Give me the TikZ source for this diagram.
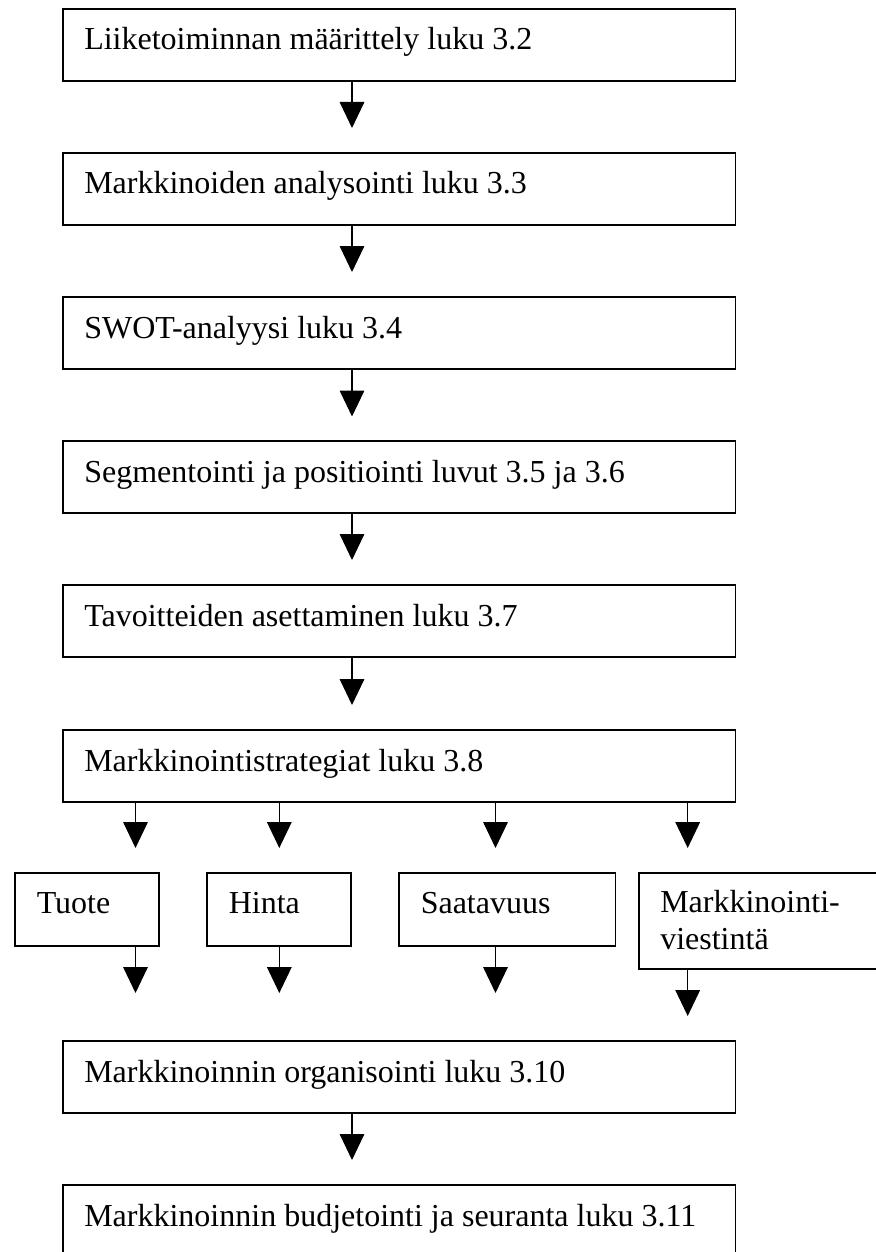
\documentclass[tikz,border=0pt]{standalone}
\usepackage{fontspec}
\setmainfont{Liberation Serif}
\usetikzlibrary{arrows.meta,calc}
\begin{document}
\begin{tikzpicture}[x=0.75pt,y=-0.75pt,
  box/.style={draw, line width=1.3pt, rectangle, inner sep=0pt, outer sep=0pt, anchor=north west},
  mainbox/.style={box, minimum width=504.4pt, minimum height=54pt},
  smallbox/.style={box, minimum width=108pt, minimum height=54.75pt},
  txt/.style={anchor=base west, inner sep=0pt, font=\fontsize{24pt}{27.75pt}\selectfont},
  arr/.style={line width=0.8pt, -{Triangle[width=18.5pt,length=19.5pt]}}]
\useasboundingbox (0,0) rectangle (875,1252);
% main boxes
\node[mainbox] (b1) at (63,9) {};
\node[mainbox] (b2) at (63,153) {};
\node[mainbox] (b3) at (63,297) {};
\node[mainbox] (b4) at (63,441) {};
\node[mainbox] (b5) at (63,585) {};
\node[mainbox] (b6) at (63,730) {};
\node[mainbox] (b7) at (63,1041) {};
\node[mainbox] (b8) at (63,1185) {};
% small boxes
\node[smallbox] (s1) at (15,873) {};
\node[smallbox] (s2) at (207,873) {};
\node[smallbox, minimum width=162.4pt] (s3) at (399,873) {};
\node[box, minimum width=178.5pt, minimum height=72pt] (s4) at (639,873) {};
% texts
\node[txt] (t1) at ($(b1.north west)+(21,41)$) {Liiketoiminnan määrittely luku 3.2};
\node[txt] (t2) at ($(b2.north west)+(21,41)$) {Markkinoiden analysointi luku 3.3};
\node[txt] (t3) at ($(b3.north west)+(21,41)$) {SWOT-analyysi luku 3.4};
\node[txt] (t4) at ($(b4.north west)+(21,41)$) {Segmentointi ja positiointi luvut 3.5 ja 3.6};
\node[txt] (t5) at ($(b5.north west)+(21,41)$) {Tavoitteiden asettaminen luku 3.7};
\node[txt] (t6) at ($(b6.north west)+(21,41)$) {Markkinointistrategiat luku 3.8};
\node[txt] (t7) at ($(b7.north west)+(21,41)$) {Markkinoinnin organisointi luku 3.10};
\node[txt] (t8) at ($(b8.north west)+(21,41)$) {Markkinoinnin budjetointi ja seuranta luku 3.11};
\node[txt] (ts1) at ($(s1.north west)+(21.5,40.5)$) {Tuote};
\node[txt] (ts2) at ($(s2.north west)+(21.5,40.5)$) {Hinta};
\node[txt] (ts3) at ($(s3.north west)+(21.5,40.5)$) {Saatavuus};
\node[txt] (ts4a) at ($(s4.north west)+(21,39)$) {Markkinointi-};
\node[txt] (ts4b) at ($(s4.north west)+(21,76)$) {viestintä};
% arrow end points
\coordinate (e1) at (352,128);
\coordinate (e2) at (352,272);
\coordinate (e3) at (352,416.5);
\coordinate (e4) at (352,560);
\coordinate (e5) at (352,705);
\coordinate (e7) at (352,1160);
\coordinate (f1) at (135.5,848);
\coordinate (f2) at (279.3,848);
\coordinate (f3) at (495.5,848);
\coordinate (f4) at (687.7,848);
\coordinate (g1) at (135.5,993);
\coordinate (g2) at (279.3,993);
\coordinate (g3) at (495.5,993);
\coordinate (g4) at (687.7,1016);
% arrows
\draw[arr] (b1.south west -| e1) -- (e1);
\draw[arr] (b2.south west -| e2) -- (e2);
\draw[arr] (b3.south west -| e3) -- (e3);
\draw[arr] (b4.south west -| e4) -- (e4);
\draw[arr] (b5.south west -| e5) -- (e5);
\draw[arr] (b7.south west -| e7) -- (e7);
\draw[arr] (b6.south west -| f1) -- (f1);
\draw[arr] (b6.south west -| f2) -- (f2);
\draw[arr] (b6.south west -| f3) -- (f3);
\draw[arr] (b6.south west -| f4) -- (f4);
\draw[arr] (s1.south west -| g1) -- (g1);
\draw[arr] (s2.south west -| g2) -- (g2);
\draw[arr] (s3.south west -| g3) -- (g3);
\draw[arr] (s4.south west -| g4) -- (g4);
\end{tikzpicture}
\end{document}
